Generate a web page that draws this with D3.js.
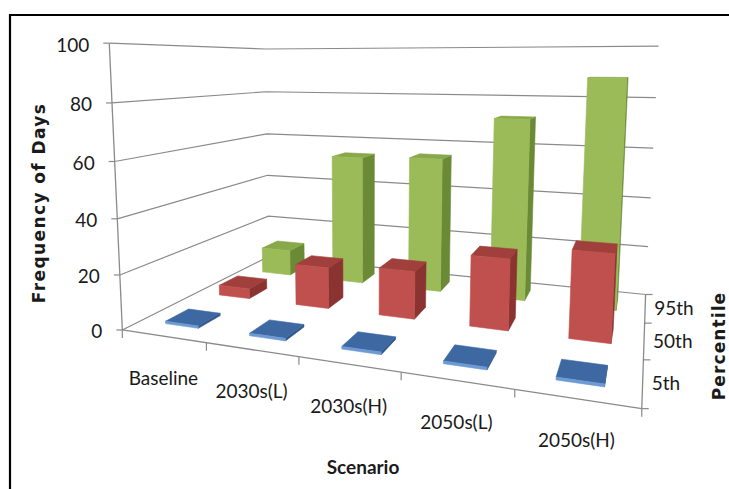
<!DOCTYPE html>
<html>
<head>
<meta charset="utf-8">
<script src="https://cdn.jsdelivr.net/npm/d3@7"></script>
<style>
  html, body { margin: 0; padding: 0; background: #fff; }
  svg { display: block; }
  .tick-label { font-family: Lato, "Open Sans", sans-serif; font-size: 19px; fill: #1a1a1a; }
  .title { font-family: Lato, sans-serif; font-weight: bold; font-size: 19px; fill: #1a1a1a; }
  .vtitle { font-family: "DejaVu Sans", sans-serif; font-weight: bold; font-size: 17px; fill: #1a1a1a; letter-spacing: 1.4px; }
</style>
</head>
<body>
<svg id="chart" width="729" height="489"></svg>
<script>
// ---------------- data ----------------
const categories = ["Baseline", "2030s(L)", "2030s(H)", "2050s(L)", "2050s(H)"];
const series = ["5th", "50th", "95th"];           // front to back
const values5th  = [0, 0, 0, 0, 0];
const values50th = [4, 16, 18, 26, 31];
const values95th = [11, 54, 55, 72, 88];
const valueTicks = [0, 20, 40, 60, 80, 100];
const xTitle = "Scenario";
const yTitle = "Frequency of Days";
const zTitle = "Percentile";

// ---------------- layout: perspective frame anchors (unit cube -> screen) ----------------
const frameAnchors = [
  [[0, 0, 0], [124, 329]], [[0.2, 0, 0], [207, 343]], [[0.4, 0, 0], [298, 358]],
  [[0.6, 0, 0], [401, 375]], [[0.8, 0, 0], [514, 392]], [[1, 0, 0], [642, 408]],
  [[1, 0, 1 / 3], [644, 357]], [[1, 0, 2 / 3], [644, 322]], [[1, 0, 1], [645, 294]],
  [[0, 0, 1], [267, 258]], [[0, 1, 0], [108, 44]], [[0, 0.2, 0], [122, 273]],
  [[0, 0.4, 0], [117, 218]], [[0, 0.6, 0], [114, 161]], [[0, 0.8, 0], [111, 103]],
  [[0, 1, 1], [267, 49]], [[0, 0.6, 1], [267, 133]], [[1, 1, 1], [658, 47]],
  [[1, 0.6, 1], [653, 148]], [[1, 0.2, 1], [650, 247]]
];

function solveProjection(pts) {
  const n = 11, A = [], b = [];
  for (const [[X, Y, Z], [u, v]] of pts) {
    A.push([X, Y, Z, 1, 0, 0, 0, 0, -u * X, -u * Y, -u * Z]); b.push(u);
    A.push([0, 0, 0, 0, X, Y, Z, 1, -v * X, -v * Y, -v * Z]); b.push(v);
  }
  const M = Array.from({ length: n }, () => new Array(n + 1).fill(0));
  for (let r = 0; r < A.length; r++) {
    for (let i = 0; i < n; i++) {
      for (let j = 0; j < n; j++) M[i][j] += A[r][i] * A[r][j];
      M[i][n] += A[r][i] * b[r];
    }
  }
  for (let c = 0; c < n; c++) {
    let p = c;
    for (let r = c + 1; r < n; r++) if (Math.abs(M[r][c]) > Math.abs(M[p][c])) p = r;
    [M[c], M[p]] = [M[p], M[c]];
    for (let r = 0; r < n; r++) {
      if (r === c) continue;
      const f = M[r][c] / M[c][c];
      for (let k = c; k <= n; k++) M[r][k] -= f * M[c][k];
    }
  }
  return M.map((row, i) => row[n] / row[i]);
}
const P = solveProjection(frameAnchors);
function project([X, Y, Z]) {
  const w = P[8] * X + P[9] * Y + P[10] * Z + 1;
  return [(P[0] * X + P[1] * Y + P[2] * Z + P[3]) / w, (P[4] * X + P[5] * Y + P[6] * Z + P[7]) / w];
}

// ---------------- scales ----------------
const x = d3.scaleBand().domain(categories).range([0, 1]).paddingInner(0.6).paddingOuter(0.3);
const z = d3.scaleBand().domain(series).range([0, 1]).paddingInner(0.6).paddingOuter(0.3);
const y = d3.scaleLinear().domain([0, 100]).range([0, 1]);

const svg = d3.select("#chart");
const line = d3.line();

// ---------------- walls / gridlines ----------------
const gridColor = "#8a8a8a";
const gWalls = svg.append("g");
valueTicks.forEach(v => {
  const pts = [project([0, y(v), 0]), project([0, y(v), 1]), project([1, y(v), 1])];
  gWalls.append("path").attr("d", line(pts)).attr("fill", "none")
    .attr("stroke", gridColor).attr("stroke-width", 1.2);
});
// floor edges
gWalls.append("path").attr("d", line([project([0, 0, 0]), project([1, 0, 0])]))
  .attr("stroke", gridColor).attr("stroke-width", 1.3).attr("fill", "none");
gWalls.append("path").attr("d", line([project([1, 0, 0]), project([1, 0, 1])]))
  .attr("stroke", gridColor).attr("stroke-width", 1.3).attr("fill", "none");
// value axis line
gWalls.append("path").attr("d", line([project([0, y(0), 0]), project([0, y(100), 0])]))
  .attr("stroke", gridColor).attr("stroke-width", 1.3).attr("fill", "none");

// ---------------- axes: ticks + labels ----------------
const gAxes = svg.append("g");
valueTicks.forEach(v => {
  const p = project([0, y(v), 0]);
  gAxes.append("line").attr("x1", p[0] - 6).attr("x2", p[0]).attr("y1", p[1]).attr("y2", p[1])
    .attr("stroke", gridColor).attr("stroke-width", 1.2);
  gAxes.append("text").attr("class", "tick-label").attr("x", p[0] - 20).attr("y", p[1] + 1)
    .attr("text-anchor", "end").attr("dominant-baseline", "central").text(v);
});
const xBounds = d3.range(categories.length + 1).map(i => i * x.step());
xBounds.forEach(b => {
  const p = project([b, 0, 0]);
  gAxes.append("line").attr("x1", p[0]).attr("x2", p[0]).attr("y1", p[1]).attr("y2", p[1] + 8)
    .attr("stroke", gridColor).attr("stroke-width", 1.2);
});
categories.forEach(c => {
  const p = project([x(c) + x.bandwidth() / 2, 0, 0]);
  gAxes.append("text").attr("class", "tick-label").attr("x", p[0]).attr("y", p[1] + 41)
    .attr("text-anchor", "middle").attr("dominant-baseline", "central").text(c);
});
const zBounds = d3.range(series.length + 1).map(i => i * z.step());
zBounds.forEach(b => {
  const p = project([1, 0, b]);
  gAxes.append("line").attr("x1", p[0]).attr("x2", p[0] + 7).attr("y1", p[1]).attr("y2", p[1])
    .attr("stroke", gridColor).attr("stroke-width", 1.2);
});
series.forEach(s => {
  const p = project([1, 0, z(s) + z.bandwidth() / 2]);
  gAxes.append("text").attr("class", "tick-label").attr("x", p[0] + 9).attr("y", p[1])
    .attr("text-anchor", "start").attr("dominant-baseline", "central").text(s);
});

// titles
svg.append("text").attr("class", "title").attr("x", 363).attr("y", 474)
  .attr("text-anchor", "middle").text(xTitle);
svg.append("text").attr("class", "vtitle").attr("transform", "translate(45,203) rotate(-90)")
  .attr("text-anchor", "middle").text(yTitle);
svg.append("text").attr("class", "vtitle").attr("transform", "translate(725,346) rotate(-90)")
  .attr("text-anchor", "middle").style("letter-spacing", "1.1px").text(zTitle);

// ---------------- bars ----------------
const palette = {
  "5th":  { front: "#6d9ad3", top: "#3d68a2", side: "#2f5689" },
  "50th": { front: "#c0504d", top: "#a13f3c", side: "#8b3330" },
  "95th": { front: "#9bbb59", top: "#88a84b", side: "#6a8a36" }
};
const seriesValues = { "5th": values5th, "50th": values50th, "95th": values95th };
const minThickness = 0.9;

function area2(pts) {
  let s = 0;
  for (let i = 0; i < pts.length; i++) {
    const a = pts[i], b = pts[(i + 1) % pts.length];
    s += a[0] * b[1] - b[0] * a[1];
  }
  return s / 2;
}

const gBars = svg.append("g");
[...series].reverse().forEach(s => {
  const col = palette[s];
  categories.forEach((c, i) => {
    const v = seriesValues[s][i];
    const x0 = x(c), x1 = x(c) + x.bandwidth();
    const z0 = z(s), z1 = z(s) + z.bandwidth();
    const y0 = y(0), y1 = y(Math.max(v, minThickness));
    const faces = [
      { k: "left",  c: col.side,  p: [[x0, y0, z0], [x0, y0, z1], [x0, y1, z1], [x0, y1, z0]] },
      { k: "right", c: col.side,  p: [[x1, y0, z0], [x1, y1, z0], [x1, y1, z1], [x1, y0, z1]] },
      { k: "top",   c: col.top,   p: [[x0, y1, z0], [x0, y1, z1], [x1, y1, z1], [x1, y1, z0]] },
      { k: "front", c: col.front, p: [[x0, y0, z0], [x0, y1, z0], [x1, y1, z0], [x1, y0, z0]] }
    ];
    const refSign = Math.sign(area2(faces[3].p.map(project)));
    const g = gBars.append("g");
    faces.forEach(f => {
      const pts = f.p.map(project);
      const a = area2(pts);
      if (Math.sign(a) !== refSign || Math.abs(a) < 0.5) return;
      g.append("path").attr("d", line(pts) + "Z").attr("fill", f.c)
        .attr("stroke", f.c).attr("stroke-width", 0.6).attr("stroke-linejoin", "round");
    });
  });
});

// ---------------- frame border ----------------
svg.append("path").attr("d", "M10,489V15H729").attr("fill", "none")
  .attr("stroke", "#000").attr("stroke-width", 2.2);
</script>
</body>
</html>
